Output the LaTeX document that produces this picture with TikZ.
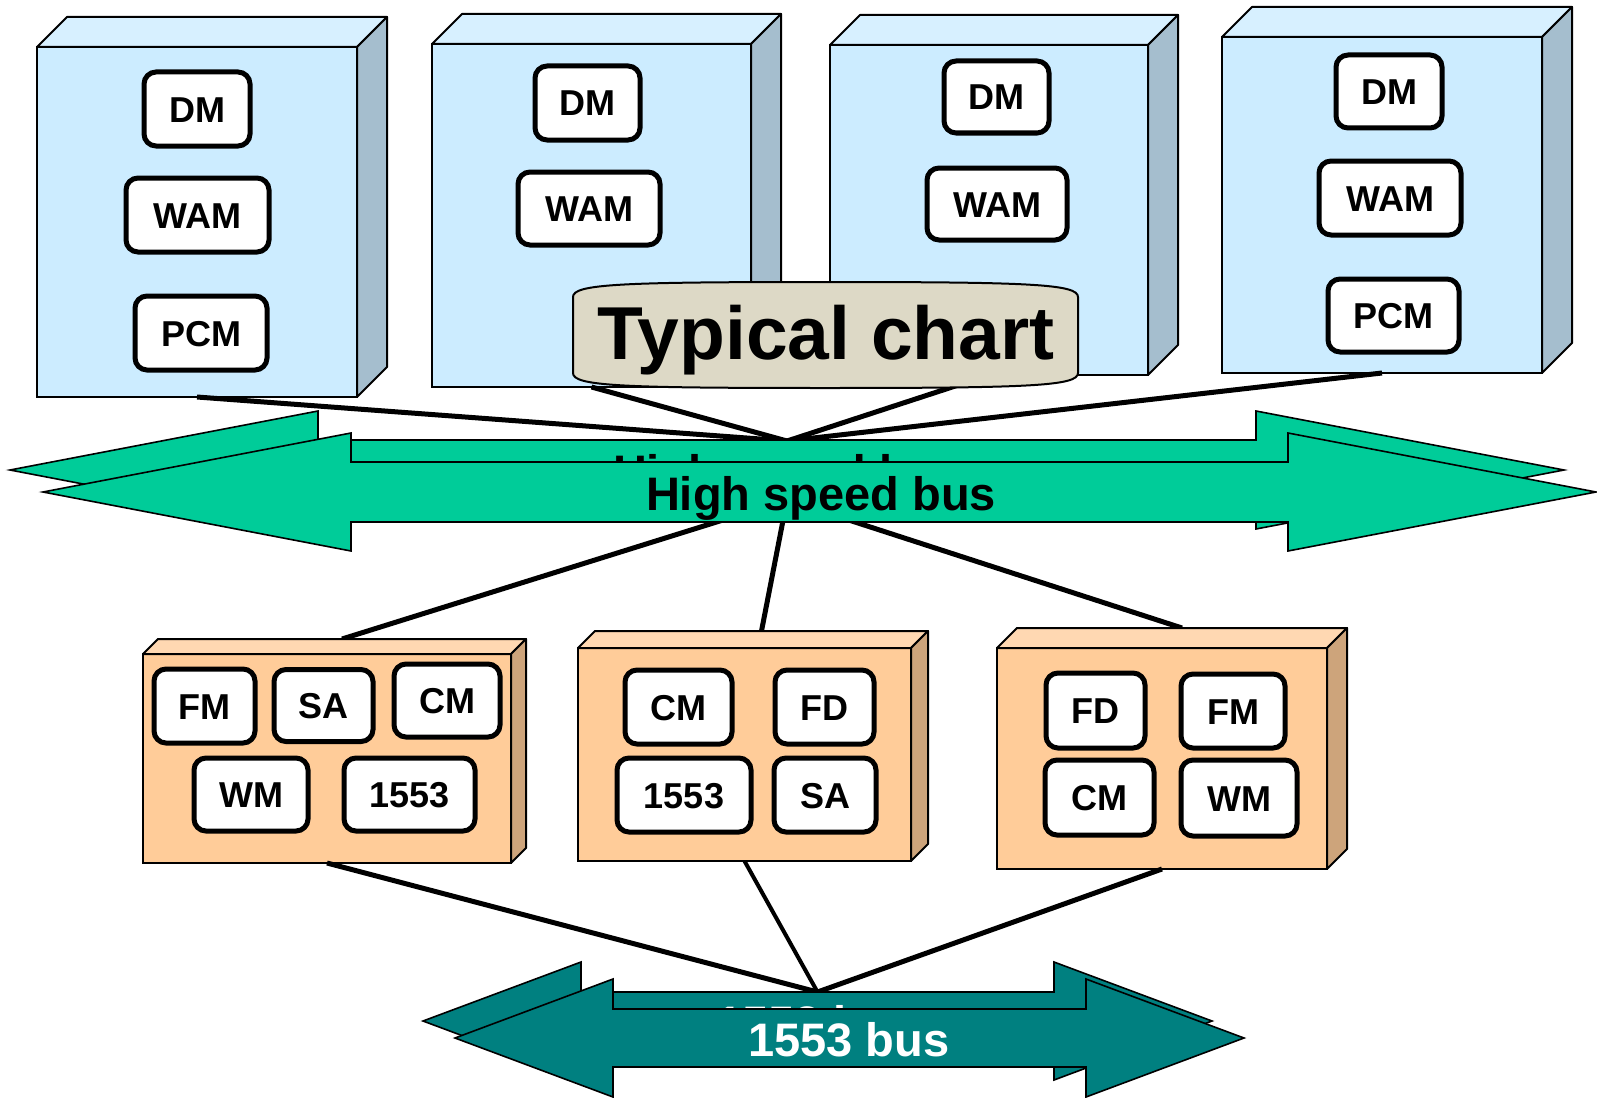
\documentclass[tikz,border=0pt]{standalone}
\usepackage{fontspec}
\setmainfont{Liberation Sans}
\usetikzlibrary{calc}

\definecolor{cubefront}{HTML}{CCECFF}
\definecolor{cubetop}{HTML}{D7F0FF}
\definecolor{cubeside}{HTML}{A5BECE}
\definecolor{unitfront}{HTML}{FFCC99}
\definecolor{unittop}{HTML}{FFD8B2}
\definecolor{unitside}{HTML}{CDA47B}
\definecolor{calloutfill}{HTML}{DDD9C6}
\definecolor{hsbus}{HTML}{00CC99}
\definecolor{milbus}{HTML}{008080}

% top and side faces of a box drawn behind a front-face node
\newcommand\cubefaces[4]{%
  \filldraw[fill=#3, draw=black, line width=2pt, line join=round]
    (#1.north west) -- ($(#1.north west)+(#2,-#2)$) -- ($(#1.north east)+(#2,-#2)$) -- (#1.north east) -- cycle;
  \filldraw[fill=#4, draw=black, line width=2pt, line join=round]
    (#1.north east) -- ($(#1.north east)+(#2,-#2)$) -- ($(#1.south east)+(#2,-#2)$) -- (#1.south east) -- cycle;}

% double-headed block arrow: name, cx, cy, half length, head length, shaft half height, head half height, fill
\newcommand\busarrow[8]{%
  \filldraw[fill=#8, draw=black, line width=1.6pt, line join=miter]
    (#2-#4,#3) -- (#2-#4+#5,#3-#7) -- (#2-#4+#5,#3-#6) -- (#2+#4-#5,#3-#6) -- (#2+#4-#5,#3-#7)
    -- (#2+#4,#3) -- (#2+#4-#5,#3+#7) -- (#2+#4-#5,#3+#6) -- (#2-#4+#5,#3+#6) -- (#2-#4+#5,#3+#7) -- cycle;
  \coordinate (#1-top) at (#2,#3-#6);
  \coordinate (#1-bottom) at (#2,#3+#6);}

\tikzset{
  front/.style={draw=black, line width=2pt, inner sep=0pt, outer sep=0pt, anchor=north west},
  bluefront/.style={front, fill=cubefront},
  unitface/.style={front, fill=unitfront},
  module/.style={draw=black, fill=white, line width=5pt, rounded corners=12pt, inner sep=0pt, outer sep=0pt,
    font=\bfseries\fontsize{36}{36}\selectfont, text height=26pt, text depth=0pt},
  link/.style={draw=black, line width=5pt},
  buslabel/.style={anchor=base, inner sep=0pt, font=\bfseries\fontsize{47}{47}\selectfont},
}

\begin{document}
\begin{tikzpicture}[x=1pt, y=-1pt]
\useasboundingbox (0,0) rectangle (1597,1097);

% ---------- upper computers ----------
\node[bluefront, minimum width=320pt, minimum height=350pt] (T1) at (37,47) {};
\cubefaces{T1}{30}{cubetop}{cubeside}
\node[module, minimum width=106pt, minimum height=74pt] (t1dm)  at (197,109)   {DM};
\node[module, minimum width=143pt, minimum height=74pt] (t1wam) at (197.5,215) {WAM};
\node[module, minimum width=132pt, minimum height=74pt] (t1pcm) at (201,333)   {PCM};

\node[bluefront, minimum width=319pt, minimum height=343pt] (T2) at (432,44) {};
\cubefaces{T2}{30}{cubetop}{cubeside}
\node[module, minimum width=105pt, minimum height=74pt] (t2dm)  at (587.5,103) {DM};
\node[module, minimum width=142pt, minimum height=73pt] (t2wam) at (589,208.5) {WAM};

\node[bluefront, minimum width=318pt, minimum height=330pt] (T3) at (830,45) {};
\cubefaces{T3}{30}{cubetop}{cubeside}
\node[module, minimum width=105pt, minimum height=72pt] (t3dm)  at (996.5,97) {DM};
\node[module, minimum width=140pt, minimum height=72pt] (t3wam) at (997,204)  {WAM};

\node[bluefront, minimum width=320pt, minimum height=336pt] (T4) at (1222,37) {};
\cubefaces{T4}{30}{cubetop}{cubeside}
\node[module, minimum width=106pt, minimum height=73pt] (t4dm)  at (1389,91.5)   {DM};
\node[module, minimum width=142pt, minimum height=74pt] (t4wam) at (1390,198)    {WAM};
\node[module, minimum width=131pt, minimum height=73pt] (t4pcm) at (1393.5,315.5){PCM};

% ---------- bus hubs ----------
\coordinate (hubtop) at (787,441);
\coordinate (hubmid) at (787,500);
\coordinate (hubbot) at (817.5,992);

% ---------- connectors to the high speed bus ----------
\draw[link] (T1.south) -- (hubtop);
\draw[link] (T2.south) -- (hubtop);
\draw[link] (T3.south) -- (hubtop);
\draw[link] (T4.south) -- (hubtop);

% ---------- title callout ----------
\filldraw[fill=calloutfill, draw=black, line width=2pt]
  (573,297) .. controls (573,284) and (620,282) .. (825,282)
  .. controls (1030,282) and (1078,284) .. (1078,297) -- (1078,373)
  .. controls (1078,386) and (1030,388) .. (825,388)
  .. controls (620,388) and (573,386) .. (573,373) -- cycle;
\node[anchor=base, inner sep=0pt, font=\bfseries\fontsize{75}{75}\selectfont] (title) at (826,359) {Typical chart};

% ---------- lower units ----------
\node[unitface, minimum width=368pt, minimum height=209pt] (L1) at (143,654) {};
\node[unitface, minimum width=333pt, minimum height=213pt] (L2) at (578,648) {};
\node[unitface, minimum width=330pt, minimum height=221pt] (L3) at (997,648) {};

\draw[link] (hubmid) -- ($(L1.north)+(15,-15)$);
\draw[link] (hubmid) -- ($(L2.north)+(17,-17)$);
\draw[link] (hubmid) -- ($(L3.north)+(20,-20)$);
\draw[link] (L1.south) -- (hubbot);
\draw[link, line width=4pt] (L2.south) -- (hubbot);
\draw[link] (L3.south) -- (hubbot);

\cubefaces{L1}{15}{unittop}{unitside}
\node[module, minimum width=101pt, minimum height=74pt] (l1fm)   at (204.5,706)   {FM};
\node[module, minimum width=99pt,  minimum height=72pt] (l1sa)   at (323.5,705.5) {SA};
\node[module, minimum width=106pt, minimum height=73pt] (l1cm)   at (447,700.5)   {CM};
\node[module, minimum width=114pt, minimum height=73pt] (l1wm)   at (251,794.5)   {WM};
\node[module, minimum width=131pt, minimum height=73pt] (l1mil)  at (409.5,794.5) {1553};

\cubefaces{L2}{17}{unittop}{unitside}
\node[module, minimum width=107pt, minimum height=74pt] (l2cm)  at (678.5,707) {CM};
\node[module, minimum width=99pt,  minimum height=74pt] (l2fd)  at (824.5,707) {FD};
\node[module, minimum width=134pt, minimum height=74pt] (l2mil) at (684,795)   {1553};
\node[module, minimum width=102pt, minimum height=74pt] (l2sa)  at (825,795)   {SA};

\cubefaces{L3}{20}{unittop}{unitside}
\node[module, minimum width=99pt,  minimum height=75pt] (l3fd) at (1095.5,710.5) {FD};
\node[module, minimum width=104pt, minimum height=74pt] (l3fm) at (1233,711)     {FM};
\node[module, minimum width=109pt, minimum height=75pt] (l3cm) at (1099.5,797.5) {CM};
\node[module, minimum width=116pt, minimum height=76pt] (l3wm) at (1239,798)     {WM};

% ---------- high speed bus ----------
\busarrow{hsbback}{787}{470}{777}{308}{30}{59}{hsbus}
\node[buslabel] (hsbtextback) at (788,488) {High speed bus};
\busarrow{hsb}{819.5}{492}{776.5}{308}{30}{59}{hsbus}
\node[buslabel] (hsbtext) at (821,510) {High speed bus};

% ---------- 1553 bus ----------
\busarrow{milback}{817.5}{1021}{394.5}{158}{29}{59}{milbus}
\node[buslabel, text=white] (miltextback) at (817,1039) {1553 bus};
\busarrow{mil}{849.5}{1038}{394.5}{158}{29}{59}{milbus}
\node[buslabel, text=white] (miltext) at (849,1056) {1553 bus};
\end{tikzpicture}
\end{document}
